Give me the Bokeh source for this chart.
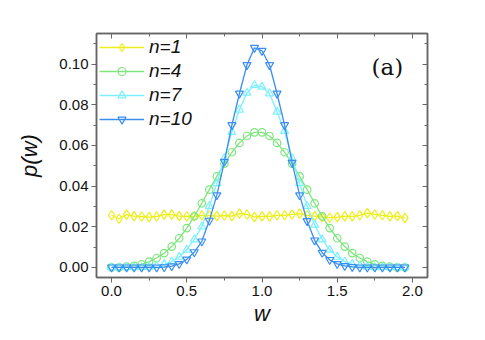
from bokeh.plotting import figure
from bokeh.models import (LinearAxis, SingleIntervalTicker, PrintfTickFormatter,
                          Legend, LegendItem, Label, Range1d)
from bokeh.embed import file_html
from bokeh.resources import INLINE

# ---- data ----
w = [0.00, 0.05, 0.10, 0.15, 0.20, 0.25, 0.30, 0.35, 0.40, 0.45,
     0.50, 0.55, 0.60, 0.65, 0.70, 0.75, 0.80, 0.85, 0.90, 0.95,
     1.00, 1.05, 1.10, 1.15, 1.20, 1.25, 1.30, 1.35, 1.40, 1.45,
     1.50, 1.55, 1.60, 1.65, 1.70, 1.75, 1.80, 1.85, 1.90, 1.95]

p_n1 = [0.0256, 0.0239, 0.0259, 0.0252, 0.0250, 0.0247, 0.0250, 0.0259, 0.0259, 0.0252,
        0.0250, 0.0252, 0.0255, 0.0255, 0.0252, 0.0255, 0.0252, 0.0264, 0.0260, 0.0247,
        0.0251, 0.0251, 0.0256, 0.0256, 0.0260, 0.0264, 0.0256, 0.0252, 0.0247, 0.0244,
        0.0247, 0.0251, 0.0251, 0.0256, 0.0267, 0.0260, 0.0256, 0.0251, 0.0252, 0.0242]

p_n4 = [0.0000, 0.0000, 0.0003, 0.0007, 0.0015, 0.0028, 0.0046, 0.0070, 0.0102, 0.0143,
        0.0193, 0.0251, 0.0315, 0.0382, 0.0447, 0.0510, 0.0566, 0.0612, 0.0646, 0.0664,
        0.0664, 0.0646, 0.0612, 0.0566, 0.0510, 0.0447, 0.0382, 0.0315, 0.0251, 0.0193,
        0.0143, 0.0102, 0.0070, 0.0046, 0.0028, 0.0015, 0.0007, 0.0003, 0.0000, 0.0000]

p_n7 = [0.0000, 0.0000, 0.0000, 0.0000, 0.0000, 0.0003, 0.0008, 0.0015, 0.0028, 0.0051,
        0.0086, 0.0137, 0.0200, 0.0301, 0.0413, 0.0537, 0.0665, 0.0775, 0.0858, 0.0896,
        0.0888, 0.0855, 0.0765, 0.0670, 0.0537, 0.0413, 0.0301, 0.0209, 0.0137, 0.0086,
        0.0051, 0.0028, 0.0015, 0.0008, 0.0003, 0.0000, 0.0000, 0.0000, 0.0000, 0.0000]

p_n10 = [0.0000, 0.0000, 0.0000, 0.0000, 0.0000, 0.0000, 0.0000, 0.0001, 0.0006, 0.0017,
         0.0039, 0.0075, 0.0128, 0.0230, 0.0355, 0.0520, 0.0700, 0.0855, 0.0995, 0.1080,
         0.1065, 0.0995, 0.0855, 0.0700, 0.0515, 0.0355, 0.0228, 0.0133, 0.0072, 0.0037,
         0.0017, 0.0007, 0.0002, 0.0000, 0.0000, 0.0000, 0.0000, 0.0000, 0.0000, 0.0000]

labels = ["n=1", "n=4", "n=7", "n=10"]
colors = ["#eeee1a", "#7ee67e", "#7cf0ff", "#3b8ef0"]
markers = ["diamond", "circle", "triangle", "inverted_triangle"]
msizes = [9.5, 7.5, 8, 8]

FONT = "Liberation Sans"
FRAME = "#666666"

p = figure(width=477, height=332,
           x_range=Range1d(-0.1, 2.1), y_range=Range1d(-0.005, 0.115),
           output_backend="svg", toolbar_location=None,
           min_border_left=96, min_border_right=50,
           min_border_top=33, min_border_bottom=55,
           x_axis_label="w", y_axis_label="p(w)")
p.xgrid.visible = False
p.ygrid.visible = False
p.outline_line_color = FRAME
p.outline_line_width = 1.5
p.background_fill_color = "white"
p.border_fill_color = "white"

xt = SingleIntervalTicker(interval=0.5, num_minor_ticks=2)
yt = SingleIntervalTicker(interval=0.02, num_minor_ticks=2)

def style_axis(ax, inward=False, labels_on=True):
    ax.axis_line_color = FRAME
    ax.axis_line_width = 1.5
    ax.major_tick_line_color = FRAME
    ax.minor_tick_line_color = FRAME
    ax.major_tick_line_width = 1
    ax.minor_tick_line_width = 1
    if inward:
        ax.major_tick_in, ax.major_tick_out = 5, 0
        ax.minor_tick_in, ax.minor_tick_out = 3, 0
    else:
        ax.major_tick_in, ax.major_tick_out = 0, 5
        ax.minor_tick_in, ax.minor_tick_out = 0, 3
    ax.major_label_text_font = FONT
    ax.major_label_text_font_size = "15px" if labels_on else "1px"
    ax.major_label_text_color = "#111111" if labels_on else None
    ax.axis_label_text_font = FONT
    ax.axis_label_text_font_size = "22px"
    ax.axis_label_text_font_style = "italic"
    ax.axis_label_text_color = "#111111"

xa = p.xaxis[0]
xa.ticker = xt
xa.formatter = PrintfTickFormatter(format="%.1f")
style_axis(xa)
xa.major_label_standoff = 3
xa.axis_label_standoff = 2

ya = p.yaxis[0]
ya.ticker = yt
ya.formatter = PrintfTickFormatter(format="%.2f")
style_axis(ya)
ya.major_label_standoff = 3
ya.axis_label_standoff = 14

top = LinearAxis(ticker=xt)
style_axis(top, inward=True, labels_on=False)
p.add_layout(top, "above")
right = LinearAxis(ticker=yt)
style_axis(right, inward=True, labels_on=False)
p.add_layout(right, "right")

series = [p_n1, p_n4, p_n7, p_n10]
items = []
for lab, ys, c, m, s in zip(labels, series, colors, markers, msizes):
    ln = p.line(w, ys, line_color=c, line_width=1.3)
    sc = p.scatter(w, ys, marker=m, size=s, line_color=c,
                   fill_color=None, line_width=1.2)
    items.append(LegendItem(label=lab, renderers=[ln, sc]))

leg = Legend(items=items, location="top_left")
leg.border_line_color = None
leg.background_fill_alpha = 0
leg.margin = 3
leg.padding = 1
leg.spacing = 2
leg.glyph_width = 45
leg.glyph_height = 20
leg.label_height = 20
leg.label_standoff = 5
leg.label_text_font = FONT
leg.label_text_font_size = "19px"
leg.label_text_font_style = "italic"
leg.label_text_color = "#111111"
p.add_layout(leg)

p.add_layout(Label(x=1.833, y=0.0985, text="(a)", text_align="center",
                   text_baseline="middle", text_font="DejaVu Serif",
                   text_font_size="23px", text_color="#111111"))

open("out.html", "w").write(file_html(p, INLINE))
